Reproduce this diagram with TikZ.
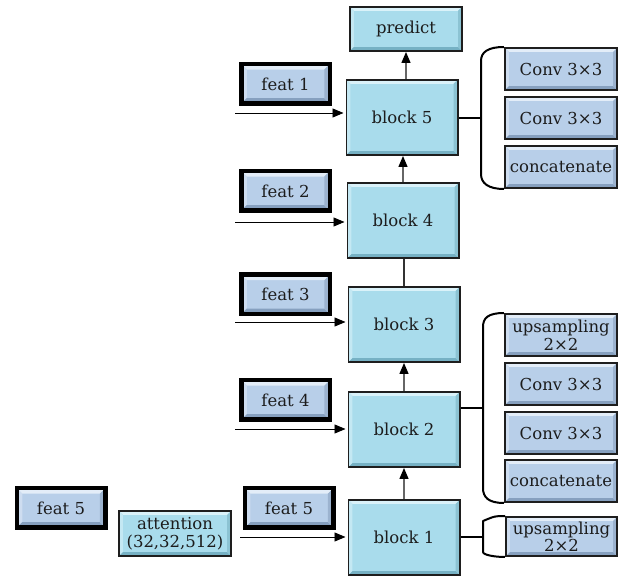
\documentclass[tikz,border=0pt]{standalone}
\usepackage{fontspec}
\setmainfont{DejaVu Serif}
\usetikzlibrary{arrows.meta}

\definecolor{edge}{HTML}{1E1E1E}
\definecolor{txt}{HTML}{1C1C1C}
\definecolor{cyanfill}{HTML}{A9DCEC}
\definecolor{cyantop}{HTML}{DAF2F9}
\definecolor{cyanleft}{HTML}{C4E8F3}
\definecolor{cyanbot}{HTML}{76B1C4}
\definecolor{cyanright}{HTML}{8CC3D3}
\definecolor{steelfill}{HTML}{B8CFE9}
\definecolor{steeltop}{HTML}{E3EDF8}
\definecolor{steelleft}{HTML}{CEDDF0}
\definecolor{steelbot}{HTML}{86A0BF}
\definecolor{steelright}{HTML}{9CB3CF}

% bevelled face: #1 bevel size, #2 top, #3 left, #4 bottom, #5 right
\newcommand{\bevelface}[5]{%
  \fill[#2] (path picture bounding box.north west) -- (path picture bounding box.north east)
    -- ([shift={(-#1,-#1)}]path picture bounding box.north east)
    -- ([shift={(#1,-#1)}]path picture bounding box.north west) -- cycle;
  \fill[#3] (path picture bounding box.north west) -- ([shift={(#1,-#1)}]path picture bounding box.north west)
    -- ([shift={(#1,#1)}]path picture bounding box.south west)
    -- (path picture bounding box.south west) -- cycle;
  \fill[#4] (path picture bounding box.south west) -- (path picture bounding box.south east)
    -- ([shift={(-#1,#1)}]path picture bounding box.south east)
    -- ([shift={(#1,#1)}]path picture bounding box.south west) -- cycle;
  \fill[#5] (path picture bounding box.north east) -- (path picture bounding box.south east)
    -- ([shift={(-#1,#1)}]path picture bounding box.south east)
    -- ([shift={(-#1,-#1)}]path picture bounding box.north east) -- cycle;
}

\begin{document}
\begin{tikzpicture}[x=1pt,y=-1pt,
  every node/.style={font=\fontsize{16.5}{17.5}\selectfont, text=txt, inner sep=0pt, align=center},
  cyanbox/.style={draw=edge, line width=1.6pt, fill=cyanfill,
    path picture={\bevelface{4pt}{cyantop}{cyanleft}{cyanbot}{cyanright}}},
  blockbox/.style={cyanbox, minimum width=111.4pt, minimum height=75.4pt},
  steelbox/.style={draw=edge, line width=1.6pt, fill=steelfill,
    path picture={\bevelface{4pt}{steeltop}{steelleft}{steelbot}{steelright}}},
  sidebox/.style={steelbox, minimum width=112.4pt, minimum height=42.4pt},
  featbox/.style={draw=black, line width=4.5pt, fill=steelfill,
    minimum width=88.5pt, minimum height=39.5pt,
    path picture={\bevelface{5.5pt}{steeltop}{steelleft}{steelbot}{steelright}}},
  inarrow/.style={draw=black, line width=0.9pt, shorten >=2pt, -{Triangle[length=11pt,width=9pt]}},
  uparrow/.style={draw=black!60, line width=1.3pt, -{Triangle[length=11pt,width=9pt,black]}},
  uplink/.style={draw=black!80, line width=1.3pt},
  brace/.style={draw=black, line width=2pt, line join=round},
]
\useasboundingbox (0,0) rectangle (622,577);

% main column
\node[cyanbox, minimum width=112.4pt, minimum height=44.4pt] (pr) at (406,29) {predict};
\node[blockbox] (b5) at (402,117.5) {block 5};
\node[blockbox] (b4) at (403,220.5) {block 4};
\node[blockbox] (b3) at (404,324.5) {block 3};
\node[blockbox] (b2) at (404,429.5) {block 2};
\node[blockbox] (b1) at (404,537.5) {block 1};

% feature inputs
\node[featbox] (f1) at (285.5,84) {feat 1};
\node[featbox] (f2) at (285.5,191) {feat 2};
\node[featbox] (f3) at (285.5,294.5) {feat 3};
\node[featbox] (f4) at (285.5,400) {feat 4};
\node[featbox] (f5) at (289,508) {feat 5};
\node[featbox] (f5l) at (61,508) {feat 5};
\node[cyanbox, minimum width=112.4pt, minimum height=45.4pt] (att) at (175,533.5) {attention\\(32,32,512)};

% layers of block 5
\node[sidebox] (s5a) at (561,69) {Conv 3×3};
\node[sidebox] (s5b) at (561,118) {Conv 3×3};
\node[sidebox] (s5c) at (561,167) {concatenate};

% layers of block 2
\node[sidebox] (s2a) at (561,335) {upsampling\\2×2};
\node[sidebox] (s2b) at (561,384) {Conv 3×3};
\node[sidebox] (s2c) at (561,433) {Conv 3×3};
\node[sidebox] (s2d) at (561,481) {concatenate};

% layer of block 1
\node[steelbox, minimum width=111.4pt, minimum height=39.4pt] (s1a) at (561.5,536.5) {upsampling\\2×2};

% incoming arrows
\coordinate (in5) at (235,113);
\coordinate (in4) at (235,222);
\coordinate (in3) at (235,322);
\coordinate (in2) at (235,429);
\coordinate (in1) at (240,537);
\draw[inarrow] (in5) -- (in5 -| b5.west);
\draw[inarrow] (in4) -- (in4 -| b4.west);
\draw[inarrow] (in3) -- (in3 -| b3.west);
\draw[inarrow] (in2) -- (in2 -| b2.west);
\draw[inarrow] (in1) -- (in1 -| b1.west);

% vertical flow
\draw[uparrow] (b5.north -| pr.south) -- (pr.south);
\draw[uparrow] (b4.north) -- (b4.north |- b5.south);
\draw[uplink] (b3.north) -- (b3.north |- b4.south);
\draw[uparrow] (b2.north) -- (b2.north |- b3.south);
\draw[uparrow] (b1.north) -- (b1.north |- b2.south);

% braces to the layer lists
\coordinate (br5) at (481,118);
\coordinate (br2) at (483,408);
\coordinate (br1) at (483,537);
\draw[brace] (b5.east |- br5) -- (br5);
\draw[brace] (s5a.north west) .. controls +(-16,0) and +(0,-9) .. (481,61)
  -- (481,174) .. controls +(0,9) and +(-16,0) .. (s5c.south west);
\draw[brace] (b2.east |- br2) -- (br2);
\draw[brace] (s2a.north west) .. controls +(-16,0) and +(0,-9) .. (483,327)
  -- (483,488) .. controls +(0,9) and +(-16,0) .. (s2d.south west);
\draw[brace] (b1.east |- br1) -- (br1);
\draw[brace] (s1a.north west) .. controls +(-10,0) .. (483,521) -- (483,552)
  .. controls +(0,3) and +(-10,0) .. (s1a.south west);
\end{tikzpicture}
\end{document}
